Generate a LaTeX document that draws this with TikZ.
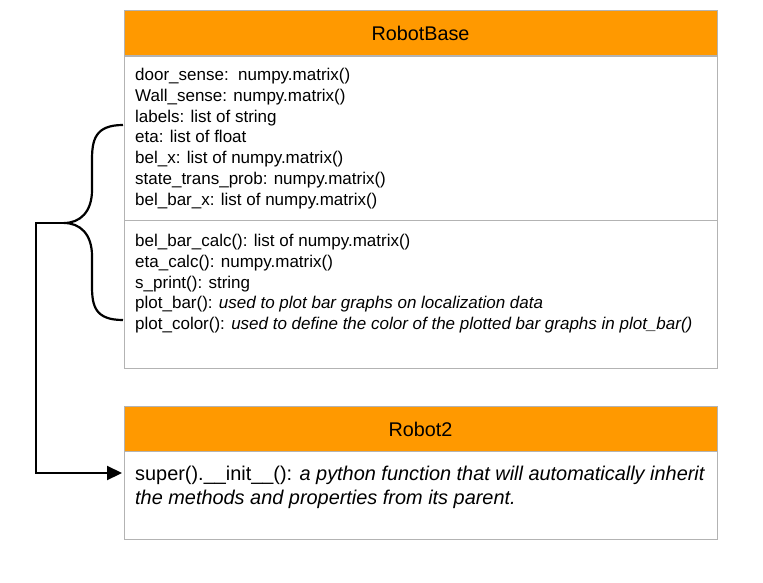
\documentclass[tikz,border=0pt]{standalone}
\usepackage{fontspec}
\setmainfont{Liberation Sans}
\usetikzlibrary{arrows.meta}
\definecolor{hdr}{HTML}{FF9900}
\definecolor{brd}{HTML}{B3B3B3}
\tikzset{
  boxline/.style={draw=brd, line width=1pt},
  hdrbox/.style={boxline, fill=hdr},
  txt/.style={anchor=base west, inner sep=0pt, font=\fontsize{17}{20}\selectfont},
  bigtxt/.style={anchor=base west, inner sep=0pt, font=\fontsize{19.9}{23}\selectfont},
  title/.style={inner sep=0pt, font=\fontsize{19.8}{23}\selectfont},
  conn/.style={line width=2.2pt, black},
}
\begin{document}
\begin{tikzpicture}[x=1pt,y=-1pt]
\useasboundingbox (0,0) rectangle (763,583);
% RobotBase
\node[hdrbox, minimum width=593pt, minimum height=46pt, anchor=north west, inner sep=0pt] (rbh) at (124,10) {};
\node[title] (rbt) at (420.5,33) {RobotBase};
\draw[boxline] (124,56) rectangle (717,368);
\draw[boxline] (124,220) -- (717,220);
\node[txt] (a1) at (135,80.5) {door\_sense:\ \ numpy.matrix()};
\node[txt] (a2) at (135,101.3) {Wall\_sense: numpy.matrix()};
\node[txt] (a3) at (135,122.1) {labels: list of string};
\node[txt] (a4) at (135,142.9) {eta: list of float};
\node[txt] (a5) at (135,163.7) {bel\_x: list of numpy.matrix()};
\node[txt] (a6) at (135,184.5) {state\_trans\_prob: numpy.matrix()};
\node[txt] (a7) at (135,205.3) {bel\_bar\_x: list of numpy.matrix()};
\node[txt] (m1) at (135,246.5) {bel\_bar\_calc(): list of numpy.matrix()};
\node[txt] (m2) at (135,267.3) {eta\_calc(): numpy.matrix()};
\node[txt] (m3) at (135,288.1) {s\_print(): string};
\node[txt] (m4) at (135,308.9) {plot\_bar(): \textit{used to plot bar graphs on localization data}};
\node[txt] (m5) at (135,329.7) {plot\_color(): \textit{used to define the color of the plotted bar graphs in plot\_bar()}};
% Robot2
\node[hdrbox, minimum width=593pt, minimum height=45pt, anchor=north west, inner sep=0pt] (r2h) at (124,406) {};
\node[title] (r2t) at (420.5,429) {Robot2};
\draw[boxline] (124,451) rectangle (717,539);
\node[bigtxt] (s1) at (135,480.5) {super().\_\_init\_\_(): \textit{a python function that will automatically inherit}};
\node[bigtxt] (s2) at (135,504.5) {\textit{the methods and properties from its parent.}};
% brace and arrow
\coordinate (bt) at (123,125);
\coordinate (bb) at (123,320);
\coordinate (tip) at (64,223);
\coordinate (corner) at (36,223);
\coordinate (low) at (36,473);
\coordinate (target) at (122,473);
\draw[conn] (bt) .. controls (95,125) and (92,140) .. (92,160) -- (92,190) .. controls (92,212) and (80,223) .. (tip)
  .. controls (80,223) and (92,234) .. (92,256) -- (92,286) .. controls (92,306) and (95,320) .. (bb);
\draw[conn, -{Triangle[length=15pt,width=14pt]}] (tip) -- (corner) -- (low) -- (target);
\end{tikzpicture}
\end{document}
